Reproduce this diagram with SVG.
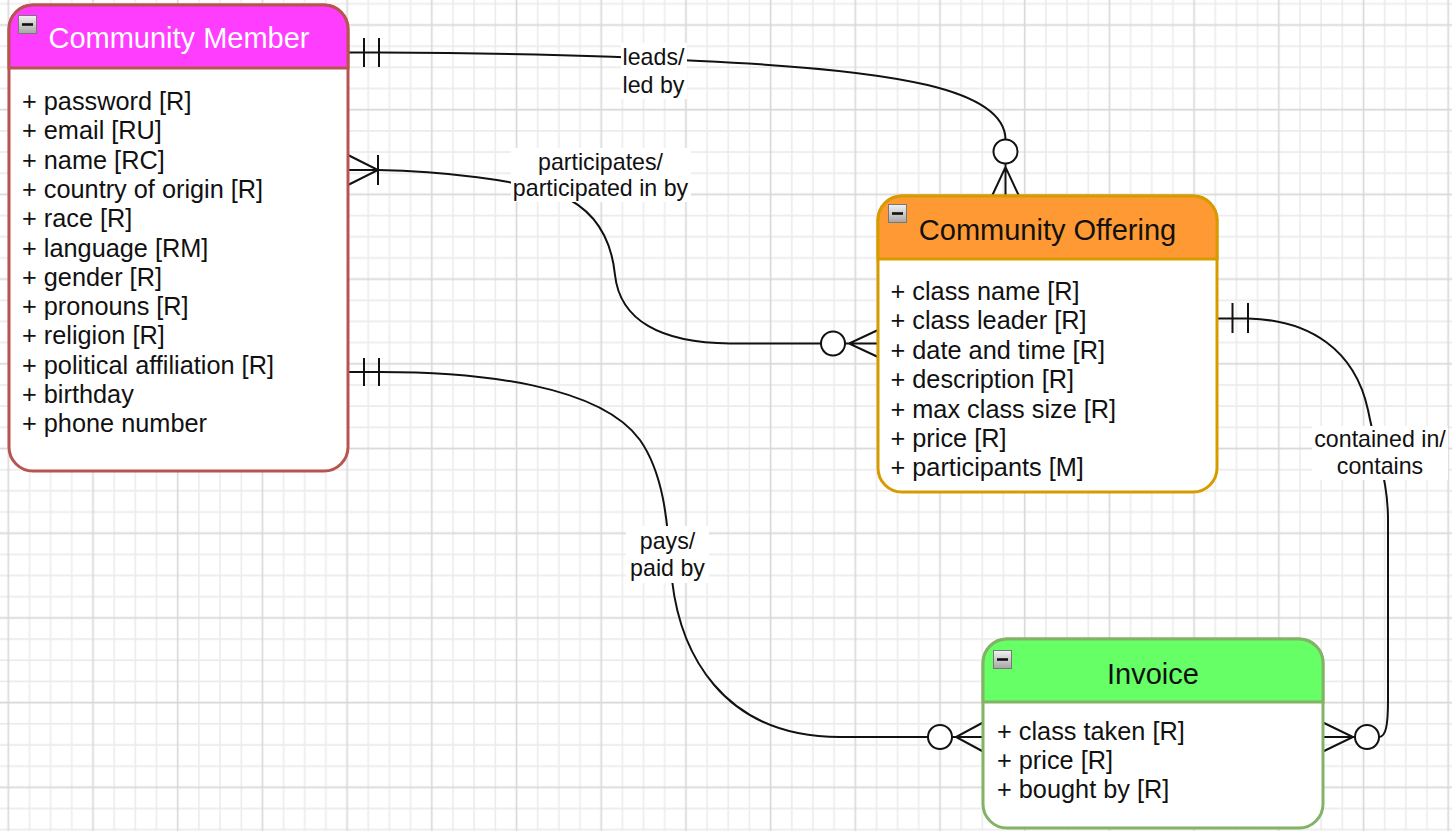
<svg xmlns="http://www.w3.org/2000/svg" width="1452" height="831" viewBox="0 0 1452 831">
<defs>
<pattern id="grid" patternUnits="userSpaceOnUse" x="-2.29" y="14.41" width="84.7" height="84.7">
<path d="M31.76,0V84.7M52.94,0V84.7M74.11,0V84.7M0,31.76H84.7M0,52.94H84.7M0,74.11H84.7" stroke="#ececec" stroke-width="1.6" fill="none"/>
<path d="M10.59,0V84.7M0,10.59H84.7" stroke="#d8d8d8" stroke-width="1.6" fill="none"/>
</pattern>
<linearGradient id="ig" x1="0" y1="0" x2="0" y2="1"><stop offset="0" stop-color="#f2f2f2"/><stop offset="1" stop-color="#a6a6a6"/></linearGradient>
<g id="minus"><rect x="0.5" y="0.5" width="18" height="18" fill="url(#ig)" stroke="#777" stroke-width="1"/><rect x="4" y="8.2" width="11" height="2.6" fill="#111"/></g>
</defs>
<style>
.t{font-family:"Liberation Sans",Arial,Helvetica,sans-serif;fill:#111}
.attr{font-size:25.3px}
.title{font-size:29px;text-anchor:middle}
.lbl{font-size:23.2px;text-anchor:middle}
.edge{fill:none;stroke:#111;stroke-width:2}
.circ{fill:#fff;stroke:#111;stroke-width:2}
.lbg{fill:#fff}
</style>
<rect x="0" y="0" width="1452" height="831" fill="#fff"/>
<rect x="0" y="0" width="1452" height="831" fill="url(#grid)"/>

<g id="connectors">
<!-- leads / led by -->
<path class="edge" d="M348,52.5 L380,52.5 C500,53 620,56 700,61 C900,70 1005,90 1005.5,139.5"/>
<path class="edge" d="M364,38V67M379,38V67"/>
<circle class="circ" cx="1005.5" cy="151.5" r="12"/>
<path class="edge" d="M1005.5,163.5V196M992,196L1005.5,167L1019,196"/>
<!-- participates -->
<path class="edge" d="M348,170 L378,170 C440,171 520,180 560,195 C600,212 612,245 615,275 C620,320 660,343 730,343.5 L821,343.5"/>
<path class="edge" d="M348,155L378,170L348,185M378,155V185"/>
<circle class="circ" cx="833" cy="343.5" r="12"/>
<path class="edge" d="M845,343.5H878M878,330L849,343.5L878,357"/>
<!-- pays -->
<path class="edge" d="M348,372 L380,372 C480,372 600,385 640,440 C668,480 668,540 672,580 C680,650 720,737 840,737 L928,737"/>
<path class="edge" d="M364,358V386M379,358V386"/>
<circle class="circ" cx="940" cy="737" r="12"/>
<path class="edge" d="M952,737H983M983,722.5L956,737L983,751.5"/>
<!-- contained in -->
<path class="edge" d="M1217,318.5 L1248,318.5 C1310,320 1355,350 1368,410 C1378,460 1388,480 1388,520 L1388,700 C1388,725 1386,737 1379,737"/>
<path class="edge" d="M1232.5,303V333M1248,303V333"/>
<circle class="circ" cx="1367" cy="737" r="12"/>
<path class="edge" d="M1323,737H1355M1323,722.5L1353,737L1323,751.5"/>
<!-- labels -->
<rect class="lbg" x="621" y="43" width="66" height="56"/>
<text class="t lbl" x="653.5" y="65">leads/</text>
<text class="t lbl" x="653.5" y="92.5">led by</text>
<rect class="lbg" x="511" y="148" width="180" height="54"/>
<text class="t lbl" x="600.5" y="169.5">participates/</text>
<text class="t lbl" x="600.5" y="196">participated in by</text>
<rect class="lbg" x="626" y="526" width="83" height="57"/>
<text class="t lbl" x="667.5" y="549">pays/</text>
<text class="t lbl" x="667.5" y="576">paid by</text>
<rect class="lbg" x="1312" y="426" width="136" height="54"/>
<text class="t lbl" x="1380" y="447">contained in/</text>
<text class="t lbl" x="1380" y="473.5">contains</text>
</g>

<g id="community-member">
<rect x="9" y="5" width="339" height="466" rx="24" fill="#fff" stroke="#b85450" stroke-width="3"/>
<path d="M9,68V29A24,24 0 0 1 33,5H324A24,24 0 0 1 348,29V68Z" fill="#ff3dff" stroke="#b85450" stroke-width="3"/>
<use href="#minus" x="18" y="15"/>
<text class="t title" x="179" y="48" style="fill:#fff">Community Member</text>
<text class="t attr" x="22" y="110">+ password [R]</text>
<text class="t attr" x="22" y="139.3">+ email [RU]</text>
<text class="t attr" x="22" y="168.6">+ name [RC]</text>
<text class="t attr" x="22" y="197.9">+ country of origin [R]</text>
<text class="t attr" x="22" y="227.2">+ race [R]</text>
<text class="t attr" x="22" y="256.5">+ language [RM]</text>
<text class="t attr" x="22" y="285.8">+ gender [R]</text>
<text class="t attr" x="22" y="315.1">+ pronouns [R]</text>
<text class="t attr" x="22" y="344.4">+ religion [R]</text>
<text class="t attr" x="22" y="373.7">+ political affiliation [R]</text>
<text class="t attr" x="22" y="403">+ birthday</text>
<text class="t attr" x="22" y="432.3">+ phone number</text>
</g>

<g id="community-offering">
<rect x="878" y="196" width="339" height="296" rx="24" fill="#fff" stroke="#d79b00" stroke-width="3"/>
<path d="M878,259V220A24,24 0 0 1 902,196H1193A24,24 0 0 1 1217,220V259Z" fill="#ff9933" stroke="#d79b00" stroke-width="3"/>
<use href="#minus" x="888" y="204"/>
<text class="t title" x="1047.5" y="239.5">Community Offering</text>
<text class="t attr" x="890.5" y="300">+ class name [R]</text>
<text class="t attr" x="890.5" y="329.4">+ class leader [R]</text>
<text class="t attr" x="890.5" y="358.8">+ date and time [R]</text>
<text class="t attr" x="890.5" y="388.2">+ description [R]</text>
<text class="t attr" x="890.5" y="417.6">+ max class size [R]</text>
<text class="t attr" x="890.5" y="447">+ price [R]</text>
<text class="t attr" x="890.5" y="476.4">+ participants [M]</text>
</g>

<g id="invoice">
<rect x="983" y="639" width="340" height="189" rx="24" fill="#fff" stroke="#82b366" stroke-width="3"/>
<path d="M983,702V663A24,24 0 0 1 1007,639H1299A24,24 0 0 1 1323,663V702Z" fill="#66ff66" stroke="#82b366" stroke-width="3"/>
<use href="#minus" x="993" y="650"/>
<text class="t title" x="1153" y="684">Invoice</text>
<text class="t attr" x="997" y="740">+ class taken [R]</text>
<text class="t attr" x="997" y="769.2">+ price [R]</text>
<text class="t attr" x="997" y="798.4">+ bought by [R]</text>
</g>
</svg>
